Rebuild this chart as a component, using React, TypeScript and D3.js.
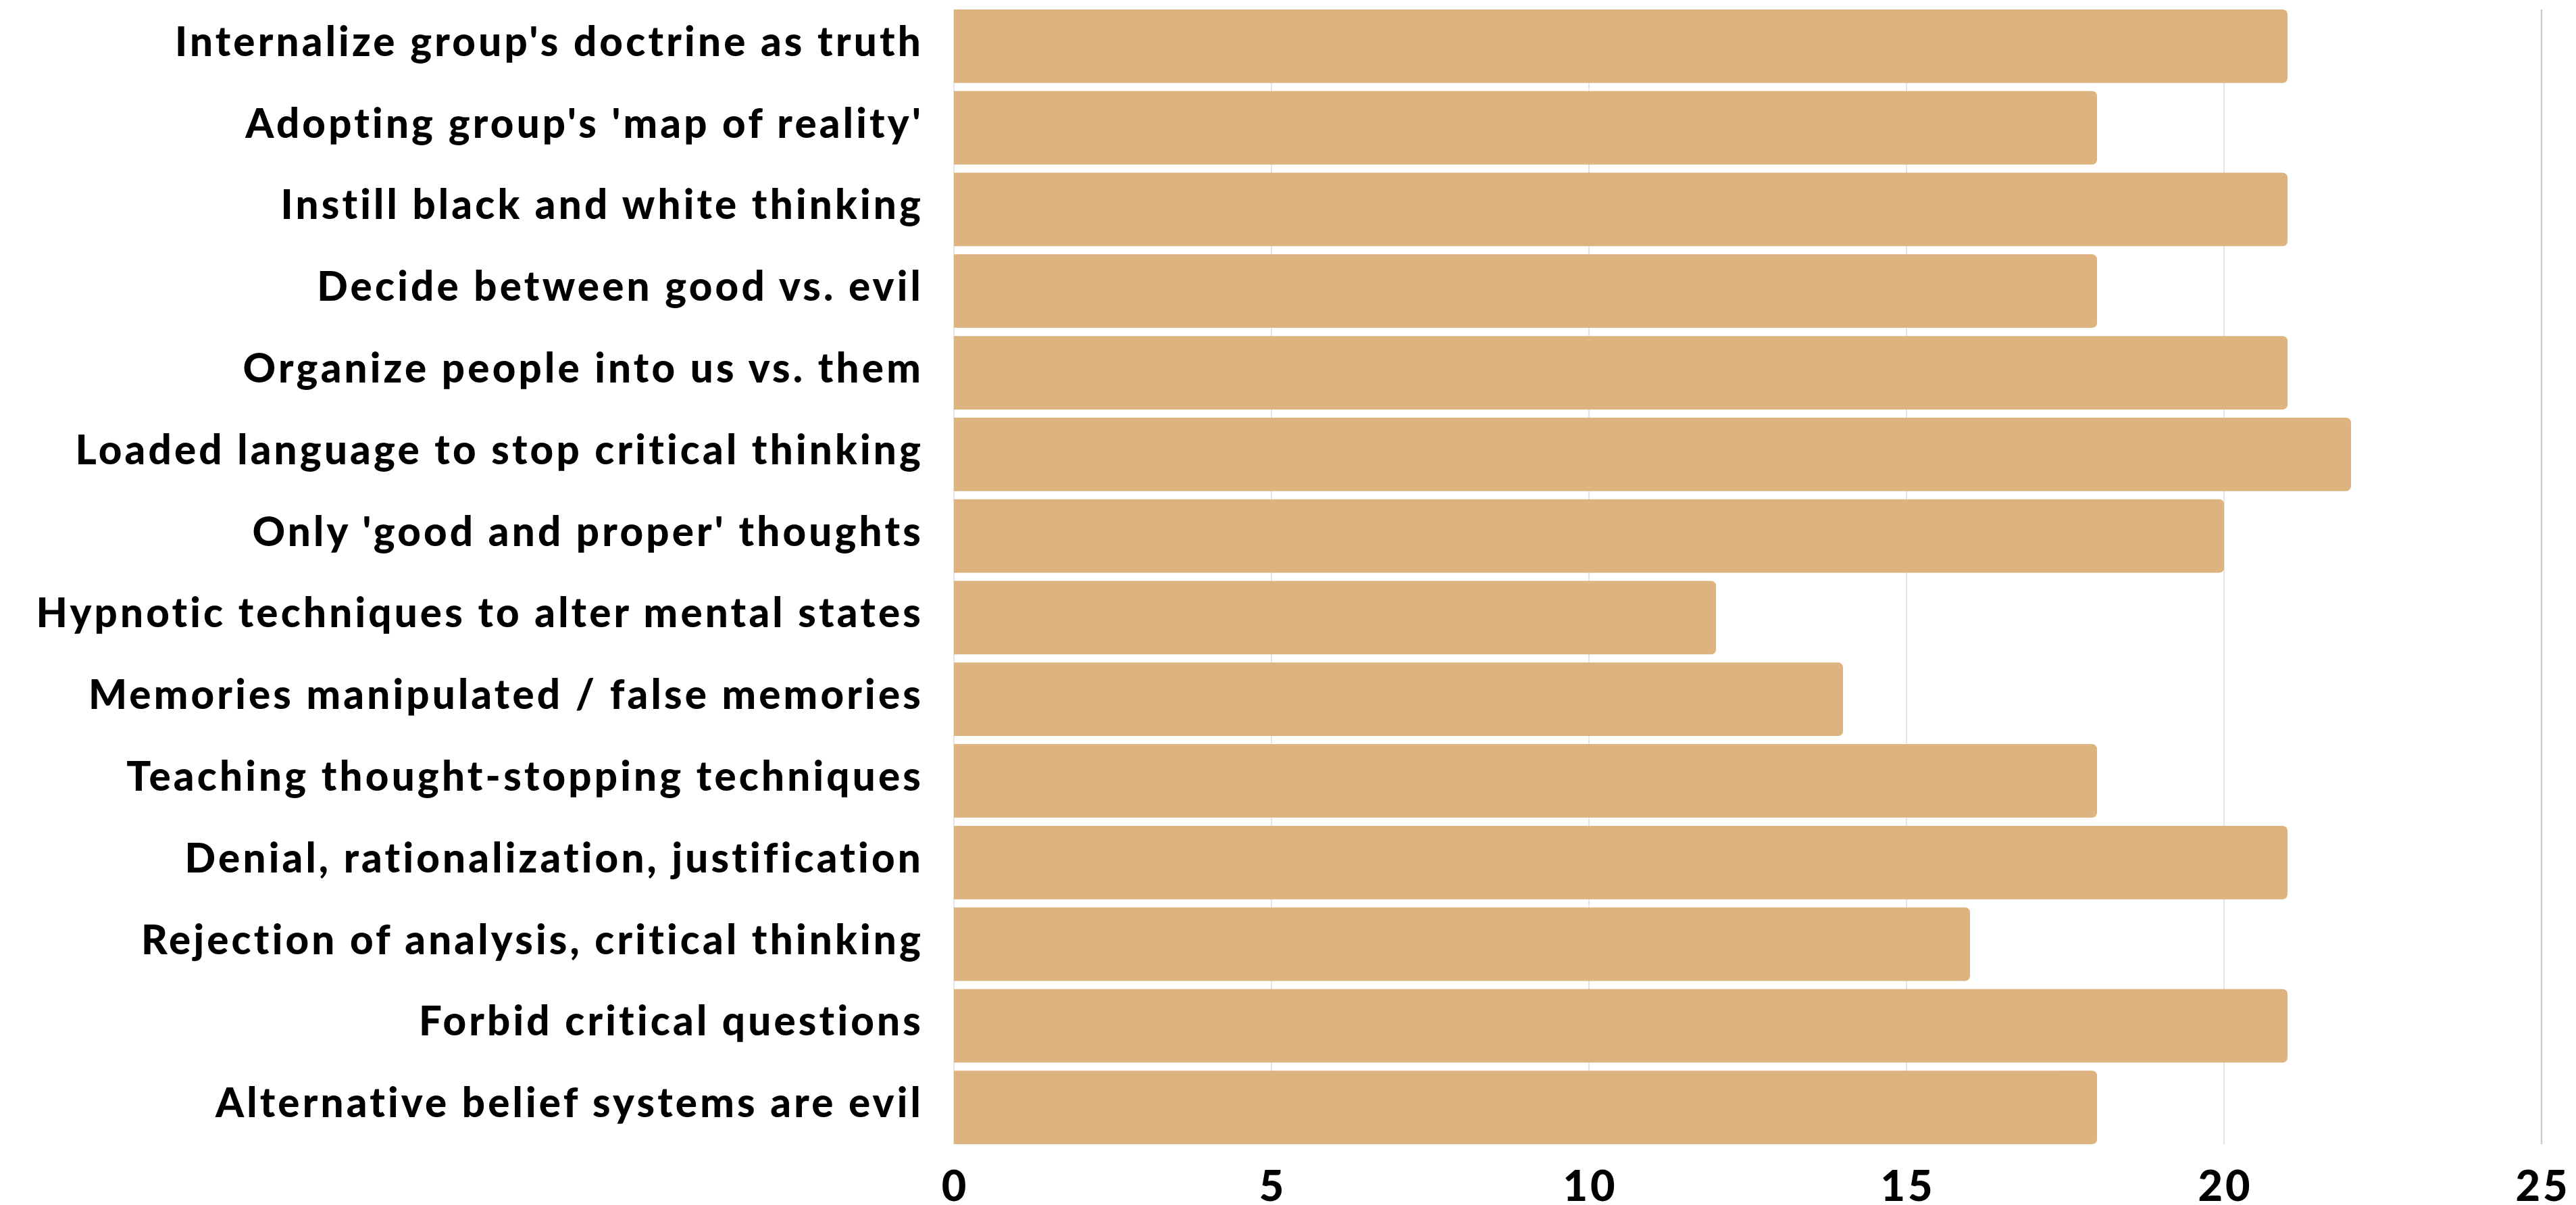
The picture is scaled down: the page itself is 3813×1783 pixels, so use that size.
import React from "react";
import * as d3 from "d3";

const categories = [
  "Internalize group's doctrine as truth",
  "Adopting group's 'map of reality'",
  "Instill black and white thinking",
  "Decide between good vs. evil",
  "Organize people into us vs. them",
  "Loaded language to stop critical thinking",
  "Only 'good and proper' thoughts",
  "Hypnotic techniques to alter mental states",
  "Memories manipulated / false memories",
  "Teaching thought-stopping techniques",
  "Denial, rationalization, justification",
  "Rejection of analysis, critical thinking",
  "Forbid critical questions",
  "Alternative belief systems are evil",
];
const values = [21, 18, 21, 18, 21, 22, 20, 12, 14, 18, 21, 16, 21, 18];
const xTicks = [0, 5, 10, 15, 20, 25];

const W = 3813;
const H = 1783;
const left = 1412;
const right = 3762;
const top = 14;
const bottom = 1693;
const FONT = "Lato, 'Open Sans', sans-serif";

function barPath(x0: number, y0: number, x1: number, y1: number, r: number) {
  const p = d3.path();
  p.moveTo(x0, y0);
  p.lineTo(x1 - r, y0);
  p.arcTo(x1, y0, x1, y0 + r, r);
  p.lineTo(x1, y1 - r);
  p.arcTo(x1, y1, x1 - r, y1, r);
  p.lineTo(x0, y1);
  p.closePath();
  return p.toString();
}

export default function App() {
  const x = d3.scaleLinear().domain([0, 25]).range([left, right]);
  const y = d3
    .scaleBand<string>()
    .domain(categories)
    .range([top, bottom])
    .paddingInner(0.1)
    .paddingOuter(0);
  const bw = y.bandwidth();
  return (
    <svg
      width={W}
      height={H}
      style={{ position: "absolute", left: 0, top: 0, background: "#fff" }}
    >
      {xTicks.map((t) => (
        <line
          key={"g" + t}
          x1={x(t)}
          x2={x(t)}
          y1={top}
          y2={bottom}
          stroke={t === 25 ? "#cccccc" : "#dcdcdc"}
          strokeWidth={t === 25 ? 2.5 : 1.5}
        />
      ))}
      {categories.map((c, i) => {
        const y0 = y(c)!;
        return (
          <path
            key={c}
            d={barPath(x(0), y0, x(values[i]), y0 + bw, 7)}
            fill="#ddb380"
          />
        );
      })}
      {categories.map((c) => (
        <text
          key={"l" + c}
          x={1367}
          y={y(c)! + bw / 2 + 14.5}
          textAnchor="end"
          fontFamily={FONT}
          fontWeight={900}
          fontSize={60}
          letterSpacing={4.2}
          fill="#000"
        >
          {c}
        </text>
      ))}
      {xTicks.map((t) => (
        <text
          key={"t" + t}
          x={x(t) + 2}
          y={1777}
          textAnchor="middle"
          fontFamily={FONT}
          fontWeight={900}
          fontSize={63}
          letterSpacing={4}
          fill="#000"
        >
          {t}
        </text>
      ))}
    </svg>
  );
}
